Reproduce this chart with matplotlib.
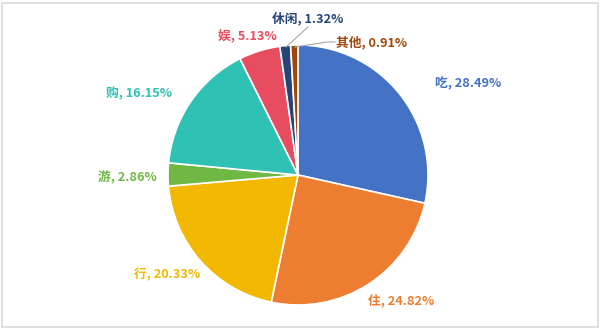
import matplotlib.pyplot as plt

plt.rcParams['font.family'] = ['Noto Sans CJK SC', 'DejaVu Sans']

# data
names = ['吃', '住', '行', '游', '购', '娱', '休闲', '其他']
shares = [28.49, 24.82, 20.33, 2.86, 16.15, 5.13, 1.32, 0.91]
colors = ['#4472C4', '#ED7D31', '#F2B800', '#70B844', '#2EC1B4', '#E84C5F', '#264478', '#9E480E']

# label centres (pixels from top-left)
label_pos = [(468, 84), (401, 302), (167, 275), (127, 177), (139, 94), (247, 35), (308, 18), (372, 43)]

W, H = 600, 328
fig = plt.figure(figsize=(W / 100, H / 100), dpi=100)
ax = fig.add_axes([0, 0, 1, 1])
ax.set_xlim(0, W)
ax.set_ylim(0, H)
ax.set_aspect('equal')
ax.axis('off')

ax.pie(shares, colors=colors, startangle=90, counterclock=False,
       center=(298, H - 175), radius=130, frame=True,
       wedgeprops=dict(edgecolor='white', linewidth=1.2))
ax.set_xlim(0, W)
ax.set_ylim(0, H)
ax.axis('off')

for name, val, c, (x, y) in zip(names, shares, colors, label_pos):
    ax.text(x, H - y, f'{name}, {val:.2f}%', color=c, fontsize=9.2,
            fontweight='bold', ha='center', va='center')

# leader lines for the two small slices
ax.plot([286, 308], [H - 47, H - 27], color='#A6A6A6', lw=0.8)
ax.plot([295, 327, 335], [H - 47, H - 42, H - 42], color='#A6A6A6', lw=0.8)

# outer border
border = plt.Rectangle((1.5, 1.5), W - 4, H - 4, fill=False, edgecolor='#D9D9D9', lw=1.2)
ax.add_patch(border)

fig.savefig('out.png', dpi=100)
